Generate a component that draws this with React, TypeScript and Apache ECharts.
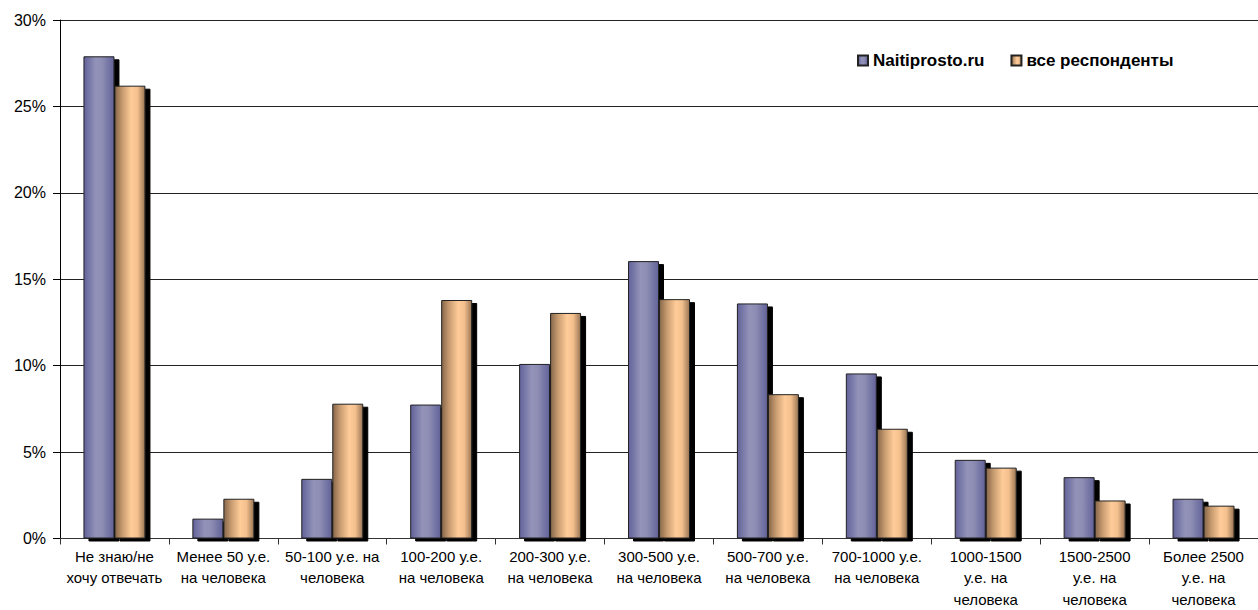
import React, { useEffect, useRef } from "react";
import * as echarts from "echarts";

const categories = [
  "Не знаю/не\nхочу отвечать",
  "Менее 50 у.е.\nна человека",
  "50-100 у.е. на\nчеловека",
  "100-200 у.е.\nна человека",
  "200-300 у.е.\nна человека",
  "300-500 у.е.\nна человека",
  "500-700 у.е.\nна человека",
  "700-1000 у.е.\nна человека",
  "1000-1500\nу.е. на\nчеловека",
  "1500-2500\nу.е. на\nчеловека",
  "Более 2500\nу.е. на\nчеловека",
];

const seriesNames = ["Naitiprosto.ru", "все респонденты"];
const naitiprosto = [27.9, 1.15, 3.45, 7.75, 10.1, 16.05, 13.6, 9.55, 4.55, 3.55, 2.3];
const allRespondents = [26.2, 2.3, 7.8, 13.8, 13.05, 13.85, 8.35, 6.35, 4.1, 2.2, 1.9];

const yTicks = { min: 0, max: 30, interval: 5 };

export default function App() {
  const ref = useRef<HTMLDivElement>(null);
  useEffect(() => {
    if (!ref.current) return;
    const chart = echarts.init(ref.current, undefined, { renderer: "svg" });
    const font = "Arial, 'Liberation Sans', sans-serif";
    const blueGrad = new echarts.graphic.LinearGradient(0, 0, 1, 0, [
      { offset: 0, color: "#62629a" },
      { offset: 0.4, color: "#9393b9" },
      { offset: 0.6, color: "#8e8eb4" },
      { offset: 1, color: "#62629a" },
    ]);
    const orangeGrad = new echarts.graphic.LinearGradient(0, 0, 1, 0, [
      { offset: 0, color: "#86664a" },
      { offset: 0.25, color: "#c89c70" },
      { offset: 0.55, color: "#ffcc99" },
      { offset: 0.75, color: "#f4c08e" },
      { offset: 1, color: "#9a7655" },
    ]);
    const shadow = {
      shadowColor: "#000",
      shadowOffsetX: 5,
      shadowOffsetY: 3,
      shadowBlur: 0,
    };
    chart.setOption({
      animation: false,
      textStyle: { fontFamily: font },
      grid: { left: 60, right: 0, top: 20, bottom: 71, containLabel: false },
      legend: {
        left: 852,
        top: 47,
        itemWidth: 10,
        itemHeight: 10,
        itemGap: 26,
        icon: "rect",
        textStyle: { fontFamily: font, fontSize: 17, fontWeight: "bold", color: "#000" },
        data: seriesNames,
      },
      xAxis: {
        type: "category",
        data: categories,
        axisLine: { lineStyle: { color: "#333", width: 1 } },
        axisTick: { show: true, length: 6, lineStyle: { color: "#333" } },
        axisLabel: {
          interval: 0,
          color: "#000",
          fontFamily: font,
          fontSize: 15,
          lineHeight: 21.5,
          margin: 7,
        },
      },
      yAxis: {
        type: "value",
        min: yTicks.min,
        max: yTicks.max,
        interval: yTicks.interval,
        axisLine: { show: true, lineStyle: { color: "#000", width: 1 } },
        axisTick: { show: true, length: 7, lineStyle: { color: "#000" } },
        axisLabel: {
          formatter: "{value}%",
          color: "#000",
          fontFamily: font,
          fontSize: 16,
          margin: 14,
        },
        splitLine: { show: true, lineStyle: { color: "#222", width: 1 } },
      },
      series: [
        {
          name: seriesNames[0],
          type: "bar",
          data: naitiprosto,
          barWidth: 31,
          barGap: "0%",
          itemStyle: { color: blueGrad, borderColor: "#222", borderWidth: 1, ...shadow },
          emphasis: { disabled: true },
        },
        {
          name: seriesNames[1],
          type: "bar",
          data: allRespondents,
          barWidth: 31,
          barGap: "0%",
          itemStyle: { color: orangeGrad, borderColor: "#222", borderWidth: 1, ...shadow },
          emphasis: { disabled: true },
        },
      ],
    });
    return () => chart.dispose();
  }, []);
  return (
    <div
      ref={ref}
      style={{ position: "fixed", left: 0, top: 0, width: 1258, height: 610, background: "#fff" }}
    />
  );
}
